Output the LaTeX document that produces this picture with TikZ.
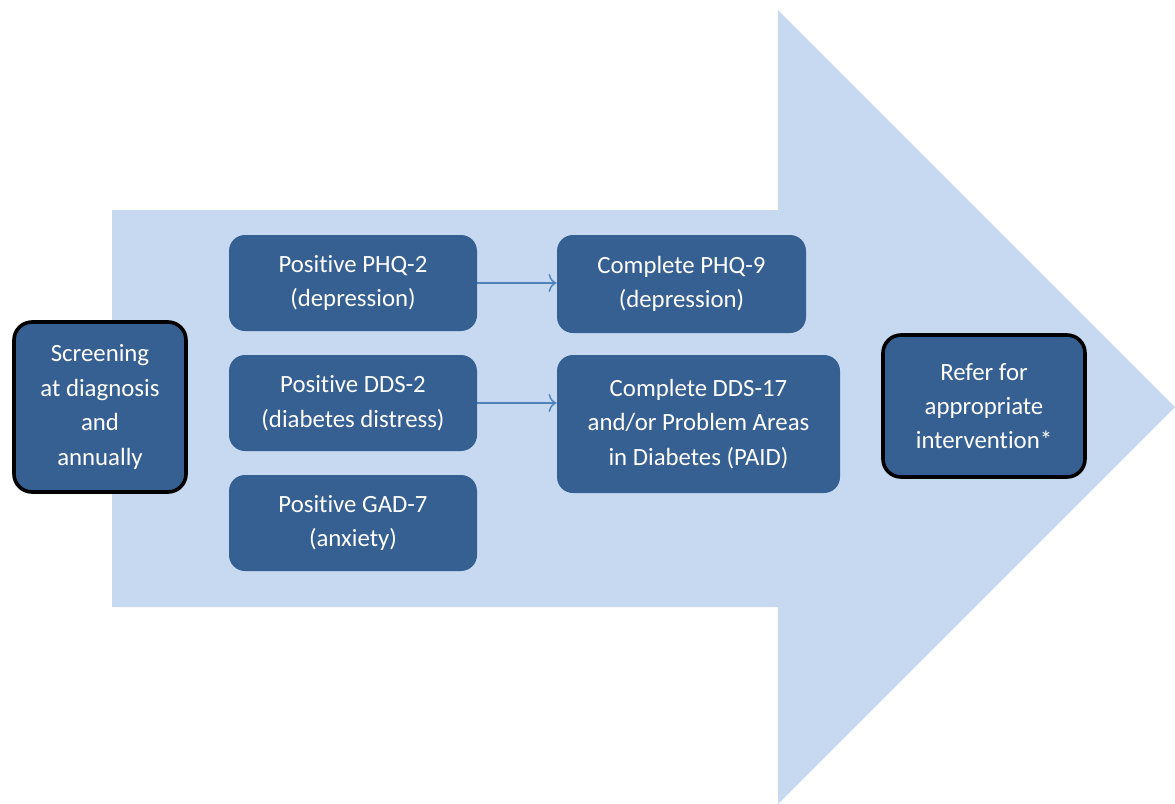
\documentclass[tikz,border=0pt]{standalone}
\usepackage{fontspec}
\setmainfont{Carlito}[Ligatures=NoCommon]
\usetikzlibrary{arrows.meta}
\definecolor{arrowfill}{RGB}{198,217,240}
\definecolor{boxfill}{RGB}{54,95,146}
\definecolor{linkblue}{RGB}{79,129,189}
\tikzset{%
  stepnode/.style = {shape=rectangle, rounded corners=8pt,%
                     fill=boxfill, text=white, align=center,%
                     inner sep=0pt, font=\fontsize{12.4}{17.2}\selectfont},%
  endnode/.style  = {stepnode, draw=black, line width=1.8pt, rounded corners=9pt},%
  link/.style     = {draw=linkblue, line width=0.7pt,%
                     -{To[length=4pt,width=9pt]}}%
}

\begin{document}
\begin{tikzpicture}[x=0.5pt,y=-0.5pt]
	\useasboundingbox (0,0) rectangle (1175,804);
	% the big background arrow
	\fill[arrowfill] (112,210) -- (778,210) -- (778,10) -- (1175,407)
		-- (778,804) -- (778,607) -- (112,607) -- cycle;
	% start and end
	\node[endnode, minimum width=86pt, minimum height=85pt] (screen) at (100,407)
		{Screening\\at diagnosis\\and\\annually};
	\node[endnode, minimum width=101pt, minimum height=71pt] (refer) at (984,406)
		{Refer for\\appropriate\\intervention*};
	% positive screens
	\node[stepnode, minimum width=124pt, minimum height=48pt] (phq2) at (353,283)
		{Positive PHQ-2\\(depression)};
	\node[stepnode, minimum width=124pt, minimum height=48pt] (dds2) at (353,403)
		{Positive DDS-2\\(diabetes distress)};
	\node[stepnode, minimum width=124pt, minimum height=48pt] (gad7) at (353,523)
		{Positive GAD-7\\(anxiety)};
	% follow-up
	\node[stepnode, minimum width=124.5pt, minimum height=49pt] (phq9) at (681.5,284)
		{Complete PHQ-9\\(depression)};
	\node[stepnode, minimum width=141.5pt, minimum height=69pt] (dds17) at (698.5,424)
		{Complete DDS-17\\and/or Problem Areas\\in Diabetes (PAID)};
	\draw[link] (phq2.east) -- (phq2.east -| phq9.west);
	\draw[link] (dds2.east) -- (dds2.east -| dds17.west);
\end{tikzpicture}
\end{document}
